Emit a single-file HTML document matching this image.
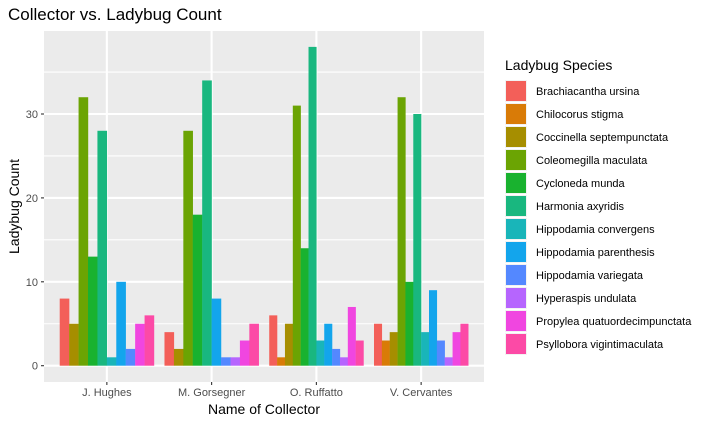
<!DOCTYPE html>
<html><head><meta charset="utf-8"><style>
body{margin:0;background:#fff;font-family:"Liberation Sans",Arial,sans-serif}
</style></head><body>
<svg id="chart" width="716" height="424" xmlns="http://www.w3.org/2000/svg" font-family="Liberation Sans, Arial, sans-serif"></svg>
<script>
const categories=["J. Hughes","M. Gorsegner","O. Ruffatto","V. Cervantes"];
const species=["Brachiacantha ursina","Chilocorus stigma","Coccinella septempunctata","Coleomegilla maculata","Cycloneda munda","Harmonia axyridis","Hippodamia convergens","Hippodamia parenthesis","Hippodamia variegata","Hyperaspis undulata","Propylea quatuordecimpunctata","Psyllobora vigintimaculata"];
const colors=["#F35F59","#D97B07","#A68E00","#6BA403","#19B22F","#19B77F","#19B5B9","#13A5EC","#5488FF","#B665FE","#F046E0","#FC4AA6"];
const jHughes=[8,null,5,32,13,28,1,10,2,null,5,6];
const mGorsegner=[4,null,2,28,18,34,null,8,1,1,3,5];
const oRuffatto=[6,1,5,31,14,38,3,5,2,1,7,3];
const vCervantes=[5,3,4,32,10,30,4,9,3,1,4,5];
const yTicks=[0,10,20,30];
const series=[jHughes,mGorsegner,oRuffatto,vCervantes];
const NS="http://www.w3.org/2000/svg";
const svg=document.getElementById('chart');
function el(t,a,txt){const e=document.createElementNS(NS,t);for(const k in a)e.setAttribute(k,a[k]);if(txt!=null)e.textContent=txt;svg.appendChild(e);return e;}
const L=44,R=484,T=31,B=382;
const band=(R-L)/(categories.length-1+1.2);
const xc=i=>L+(0.6+i)*band;
const y=v=>365.7-v*8.39;
let e=el('rect',{x:L,y:T,width:R-L,height:B-T,fill:'#EBEBEB'});

for(let i=0;i<yTicks.length;i++){
 if(i<yTicks.length-1){e=el('line',{x1:L,x2:R,y1:y(yTicks[i]+5),y2:y(yTicks[i]+5),stroke:'#fff','stroke-width':1.1});}
}
e=el('line',{x1:L,x2:R,y1:y(35),y2:y(35),stroke:'#fff','stroke-width':1.1});
yTicks.forEach(t=>{
 e=el('line',{x1:L,x2:R,y1:y(t),y2:y(t),stroke:'#fff','stroke-width':2.1});
 e=el('line',{x1:L-3,x2:L,y1:y(t),y2:y(t),stroke:'#333','stroke-width':1.1});
 e=el('text',{x:L-6,y:y(t)+4,'text-anchor':'end','font-size':11,fill:'#4D4D4D'},t);
});
categories.forEach((c,i)=>{
 e=el('line',{x1:xc(i),x2:xc(i),y1:T,y2:B,stroke:'#fff','stroke-width':2.1});
});
categories.forEach((c,i)=>{
 const vals=series[i];const idx=[];vals.forEach((v,k)=>{if(v!=null)idx.push(k);});
 const gw=band*0.9,bw=gw/idx.length,x0=xc(i)-gw/2;
 idx.forEach((k,j)=>{
  e=el('rect',{x:x0+j*bw,y:y(vals[k]),width:bw+0.2,height:y(0)-y(vals[k]),fill:colors[k]});
  
 });
 e=el('line',{x1:xc(i),x2:xc(i),y1:B,y2:B+3,stroke:'#333','stroke-width':1.1});
 e=el('text',{x:xc(i),y:B+14,'text-anchor':'middle','font-size':11,fill:'#4D4D4D'},c);
});
e=el('text',{x:8,y:20,'font-size':17,fill:'#000'},'Collector vs. Ladybug Count');
e=el('text',{x:(L+R)/2,y:414,'text-anchor':'middle','font-size':14,fill:'#000'},'Name of Collector');
e=el('text',{x:0,y:0,'text-anchor':'middle','font-size':14,fill:'#000',transform:`translate(19,${(T+B)/2}) rotate(-90)`},'Ladybug Count');
e=el('text',{x:505,y:70,'font-size':14,fill:'#000'},'Ladybug Species');
species.forEach((s,k)=>{
 const cy=91+k*23;
 e=el('rect',{x:505,y:cy-11,width:22,height:22,fill:'#F2F2F2'});
 e=el('rect',{x:506,y:cy-10,width:20,height:20,fill:colors[k]});
 e=el('text',{x:536,y:cy+4,'font-size':11,fill:'#000'},s);
});
</script>
</body></html>
